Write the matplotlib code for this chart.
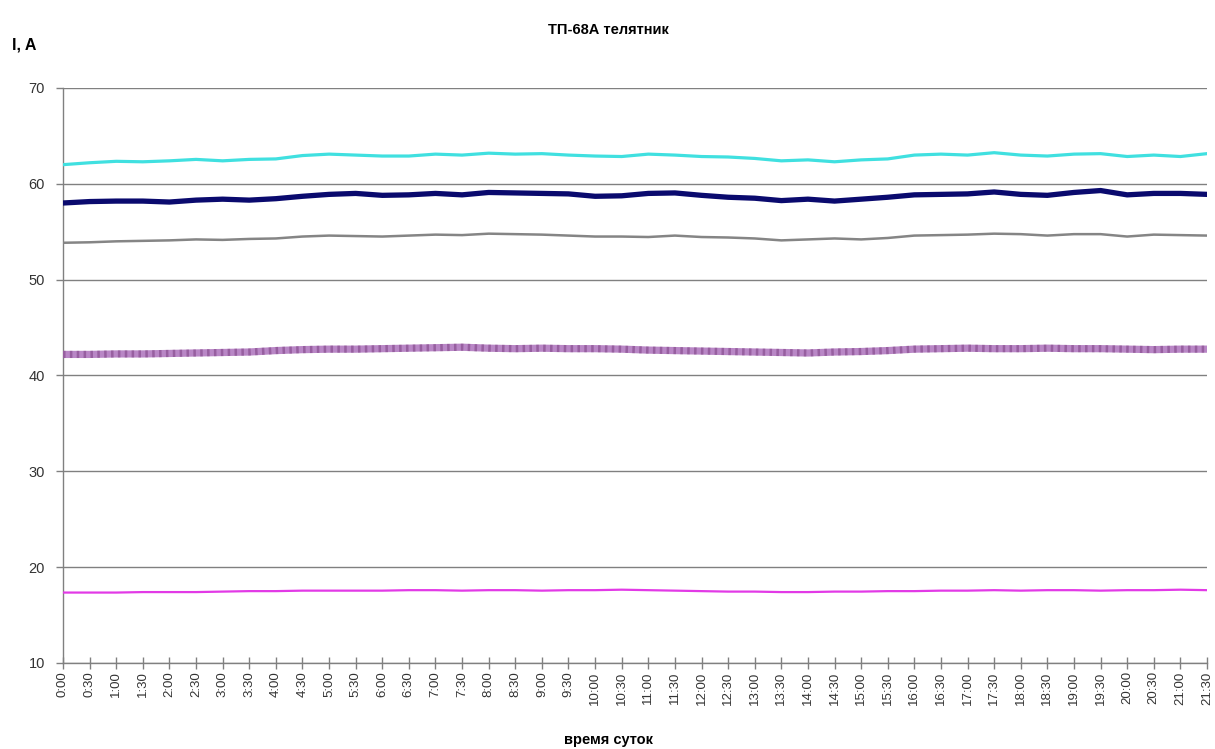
import numpy as np
import matplotlib
matplotlib.use('Agg')
import matplotlib.pyplot as plt

plt.rcParams['font.family'] = ['Liberation Sans', 'DejaVu Sans']

# ---- data (one value per half hour)
times = ['%d:%02d' % (h, m) for h in range(22) for m in (0, 30)]

cyan = [62.0, 62.2, 62.35, 62.3, 62.4, 62.55, 62.4, 62.55, 62.6, 62.95, 63.1, 63.0,
        62.9, 62.9, 63.1, 63.0, 63.2, 63.1, 63.15, 63.0, 62.9, 62.85, 63.1, 63.0,
        62.85, 62.8, 62.65, 62.4, 62.5, 62.3, 62.5, 62.6, 63.0, 63.1, 63.0, 63.25,
        63.0, 62.9, 63.1, 63.15, 62.85, 63.0, 62.85, 63.15]
navy = [58.0, 58.15, 58.2, 58.2, 58.1, 58.3, 58.4, 58.3, 58.45, 58.7, 58.9, 59.0,
        58.8, 58.85, 59.0, 58.85, 59.1, 59.05, 59.0, 58.95, 58.7, 58.75, 59.0, 59.05,
        58.8, 58.6, 58.5, 58.25, 58.4, 58.2, 58.4, 58.6, 58.85, 58.9, 58.95, 59.15,
        58.9, 58.8, 59.1, 59.3, 58.85, 59.0, 59.0, 58.9]
gray = [53.85, 53.9, 54.0, 54.05, 54.1, 54.2, 54.15, 54.25, 54.3, 54.5, 54.6, 54.55,
        54.5, 54.6, 54.7, 54.65, 54.8, 54.75, 54.7, 54.6, 54.5, 54.5, 54.45, 54.6,
        54.45, 54.4, 54.3, 54.1, 54.2, 54.3, 54.2, 54.35, 54.6, 54.65, 54.7, 54.8,
        54.75, 54.6, 54.75, 54.75, 54.5, 54.7, 54.65, 54.6]
purple = [42.2, 42.2, 42.25, 42.25, 42.3, 42.35, 42.4, 42.45, 42.6, 42.7, 42.75, 42.75,
          42.8, 42.85, 42.9, 42.95, 42.85, 42.8, 42.85, 42.8, 42.8, 42.75, 42.65, 42.6,
          42.55, 42.5, 42.45, 42.4, 42.35, 42.45, 42.5, 42.6, 42.75, 42.8, 42.85, 42.8,
          42.8, 42.85, 42.8, 42.8, 42.75, 42.7, 42.75, 42.75]
magenta = [17.35, 17.35, 17.35, 17.4, 17.4, 17.4, 17.45, 17.5, 17.5, 17.55, 17.55, 17.55,
           17.55, 17.6, 17.6, 17.55, 17.6, 17.6, 17.55, 17.6, 17.6, 17.65, 17.6, 17.55,
           17.5, 17.45, 17.45, 17.4, 17.4, 17.45, 17.45, 17.5, 17.5, 17.55, 17.55, 17.6,
           17.55, 17.6, 17.6, 17.55, 17.6, 17.6, 17.65, 17.6]

x = np.arange(len(times))

fig = plt.figure(figsize=(12.15, 7.49), dpi=100)
ax = fig.add_axes([63/1215, 1-663/749, 1144/1215, 575/749])

ax.plot(x, cyan, color='#40e0e0', lw=2.3, zorder=3)
ax.plot(x, navy, color='#0a0a6e', lw=3.8, zorder=3)
ax.plot(x, gray, color='#858585', lw=1.8, zorder=3)
# mottled purple band
ax.plot(x, purple, color='#b987c6', lw=5.2, zorder=3)
ax.plot(x, purple, color='#6e2f72', lw=5.2, ls=(0, (0.35, 0.6)), alpha=0.45, zorder=4)
ax.plot(x, magenta, color='#e23ae6', lw=1.6, zorder=3)

ax.set_xlim(0, len(times)-1)
ax.set_ylim(10, 70)
ax.set_yticks(range(10, 71, 10))
ax.yaxis.grid(True, color='#808080', lw=1.0)
ax.set_axisbelow(True)

ax.set_xticks(x)
ax.set_xticklabels(times, rotation=90, fontsize=9.5, color='#333333')
ax.tick_params(axis='x', direction='inout', length=8, width=1, color='#808080', pad=2)
ax.tick_params(axis='y', direction='out', length=5, width=1, color='#808080',
               labelsize=10.5, labelcolor='#333333', pad=8)

for s in ['top', 'right']:
    ax.spines[s].set_visible(False)
for s in ['left', 'bottom']:
    ax.spines[s].set_color('#808080')
    ax.spines[s].set_linewidth(1.0)

fig.text(608/1215, 1-30/749, 'ТП-68А телятник', ha='center', va='center',
         fontsize=10.5, fontweight='bold')
fig.text(12/1215, 1-45/749, 'I, A', ha='left', va='center', fontsize=11.5, fontweight='bold')
fig.text(608/1215, 1-740/749, 'время суток', ha='center', va='center',
         fontsize=10.5, fontweight='bold')

fig.savefig('out.png', dpi=100)
